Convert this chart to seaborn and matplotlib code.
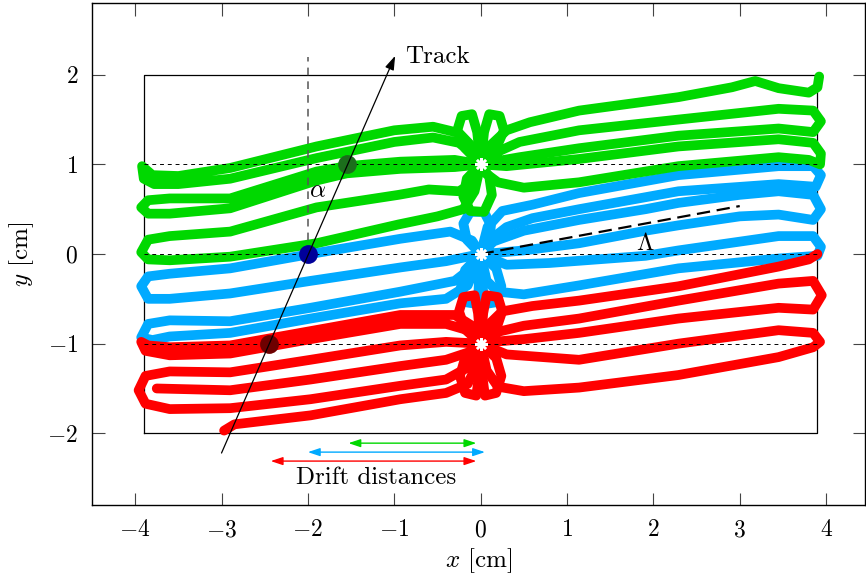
import numpy as np
import pandas as pd
import matplotlib
matplotlib.use("Agg")
import matplotlib.pyplot as plt
import seaborn as sns

plt.rcParams["font.family"] = "serif"
plt.rcParams["font.serif"] = ["cmr10"]
plt.rcParams["mathtext.fontset"] = "cm"
plt.rcParams["axes.formatter.use_mathtext"] = True

# wire positions (drift line end points) and the colours of the three cells
centers = [1.0, 0.0, -1.0]
cell_colors = {"green": "#00d800", "blue": "#00aaff", "red": "#ff0000"}

# drift lines, one polyline per loop (x, y in cm)
green_lines = [
    [(0, 1.0), (-0.08, 1.18), (-0.25, 1.35), (-0.55, 1.42), (-1.0, 1.38), (-1.9, 1.2), (-2.9, 0.96),
     (-3.5, 0.87), (-3.8, 0.88), (-3.92, 0.98), (-3.9, 0.84), (-3.78, 0.78), (-3.5, 0.78), (-2.9, 0.84),
     (-1.9, 1.07), (-1.0, 1.25), (-0.55, 1.3), (-0.25, 1.24), (-0.1, 1.12), (0, 1.0)],
    [(0, 1.0), (-0.3, 1.05), (-0.93, 1.03), (-1.55, 0.98), (-1.9, 0.92), (-2.9, 0.62), (-3.6, 0.62),
     (-3.85, 0.6), (-3.93, 0.52), (-3.85, 0.45), (-3.6, 0.45), (-2.9, 0.51), (-1.9, 0.82), (-1.55, 0.9),
     (-0.93, 0.95), (-0.3, 0.97), (0, 1.0)],
    [(0, 1.0), (-0.08, 0.8), (-0.25, 0.7), (-0.6, 0.72), (-0.95, 0.66), (-1.9, 0.52), (-2.9, 0.25),
     (-3.6, 0.2), (-3.85, 0.16), (-3.93, 0.02), (-3.85, -0.06), (-3.6, -0.07), (-2.9, -0.03), (-1.9, 0.12),
     (-0.95, 0.33), (-0.5, 0.42), (-0.2, 0.5), (-0.07, 0.7), (0, 1.0)],
    [(0, 1.0), (0.1, 1.2), (0.3, 1.38), (0.57, 1.47), (1.14, 1.6), (2.29, 1.75), (2.91, 1.86), (3.18, 1.93),
     (3.45, 1.85), (3.8, 1.8), (3.9, 1.86), (3.92, 1.98)],
    [(0, 1.0), (0.15, 1.12), (0.45, 1.25), (1.14, 1.38), (2.29, 1.5), (3.45, 1.62), (3.85, 1.6), (3.94, 1.48),
     (3.85, 1.36), (3.45, 1.4), (2.29, 1.32), (1.14, 1.18), (0.45, 1.08), (0.15, 1.03), (0, 1.0)],
    [(0, 1.0), (0.3, 0.98), (1.14, 1.06), (2.29, 1.2), (3.45, 1.28), (3.85, 1.24), (3.94, 1.12), (3.93, 1.0),
     (3.8, 1.05), (3.45, 1.08), (2.29, 0.98), (1.14, 0.8), (0.5, 0.74), (0.2, 0.8), (0.06, 0.9), (0, 1.0)],
    [(0, 1.0), (-0.18, 1.18), (-0.27, 1.38), (-0.22, 1.54), (-0.1, 1.56), (-0.04, 1.36), (0, 1.0)],
    [(0, 1.0), (0.04, 1.36), (0.1, 1.56), (0.22, 1.54), (0.27, 1.38), (0.18, 1.18), (0, 1.0)],
    [(0, 1.0), (-0.16, 0.84), (-0.2, 0.64), (-0.12, 0.48), (0.04, 0.47), (0.13, 0.66), (0.1, 0.86), (0, 1.0)],
]

blue_lines = [
    [(0, 0), (-0.1, 0.15), (-0.35, 0.25), (-0.93, 0.17), (-1.97, 0.0), (-2.9, -0.16), (-3.6, -0.22),
     (-3.85, -0.25), (-3.93, -0.36), (-3.85, -0.5), (-3.6, -0.5), (-2.9, -0.44), (-1.97, -0.3),
     (-0.93, -0.15), (-0.4, -0.08), (0, 0)],
    [(0, 0), (-0.1, -0.15), (-0.3, -0.3), (-0.93, -0.42), (-1.97, -0.6), (-2.9, -0.75), (-3.6, -0.74),
     (-3.85, -0.78), (-3.93, -0.93), (-3.8, -0.96), (-3.6, -0.92), (-2.9, -0.88), (-1.97, -0.72),
     (-0.93, -0.55), (-0.4, -0.5), (-0.15, -0.35), (0, 0)],
    [(0, 0), (0.08, 0.3), (0.25, 0.48), (0.6, 0.55), (1.14, 0.68), (2.29, 0.88), (3.45, 0.98), (3.85, 0.98),
     (3.94, 0.88), (3.88, 0.75), (3.45, 0.78), (2.29, 0.7), (1.14, 0.5), (0.6, 0.4), (0.3, 0.3), (0.1, 0.15),
     (0, 0)],
    [(0, 0), (0.15, 0.14), (0.5, 0.26), (1.14, 0.38), (1.91, 0.5), (2.29, 0.57), (3.0, 0.66), (3.45, 0.7),
     (3.85, 0.66), (3.94, 0.5), (3.85, 0.38), (3.45, 0.44), (3.0, 0.42), (2.29, 0.32), (1.91, 0.26),
     (1.14, 0.12), (0.5, 0.04), (0.15, 0.01), (0, 0)],
    [(0, 0), (0.3, -0.12), (0.8, -0.1), (1.91, -0.02), (2.29, 0.04), (3.45, 0.2), (3.85, 0.2), (3.94, 0.08),
     (3.9, -0.02), (3.45, -0.05), (2.29, -0.16), (1.14, -0.35), (0.5, -0.45), (0.2, -0.42), (0.07, -0.3),
     (0, 0)],
    [(0, 0), (-0.16, 0.16), (-0.2, 0.34), (-0.12, 0.47), (0.04, 0.47), (0.12, 0.32), (0.1, 0.14), (0, 0)],
    [(0, 0), (-0.18, -0.18), (-0.23, -0.38), (-0.16, -0.54), (-0.03, -0.56), (-0.02, -0.3), (0, 0)],
    [(0, 0), (0.02, -0.3), (0.04, -0.56), (0.17, -0.54), (0.24, -0.36), (0.18, -0.16), (0, 0)],
]

red_lines = [
    [(0, -1), (-0.1, -0.8), (-0.3, -0.68), (-0.93, -0.68), (-1.97, -0.86), (-2.9, -1.02), (-3.6, -1.04),
     (-3.85, -1.02), (-3.93, -0.98), (-3.88, -1.08), (-3.6, -1.13), (-2.9, -1.11), (-1.97, -0.95),
     (-0.93, -0.78), (-0.4, -0.78), (-0.15, -0.85), (0, -1)],
    [(0, -1), (-0.4, -0.98), (-0.93, -1.02), (-1.97, -1.18), (-2.9, -1.32), (-3.6, -1.31), (-3.88, -1.36),
     (-3.96, -1.52), (-3.88, -1.67), (-3.6, -1.73), (-2.9, -1.72), (-1.97, -1.62), (-0.93, -1.47),
     (-0.4, -1.4), (-0.12, -1.25), (0, -1)],
    [(-3.75, -1.5), (-2.9, -1.52), (-1.97, -1.4), (-0.93, -1.25), (-0.4, -1.18), (-0.15, -1.1), (0, -1)],
    [(-2.97, -1.97), (-2.85, -1.9), (-1.97, -1.8), (-0.93, -1.62), (-0.4, -1.55), (-0.15, -1.45),
     (-0.05, -1.25), (0, -1)],
    [(0, -1), (0.08, -0.8), (0.25, -0.64), (0.6, -0.58), (1.14, -0.52), (2.29, -0.36), (3.45, -0.14),
     (3.8, -0.06), (3.9, 0.0)],
    [(0, -1), (0.15, -0.88), (0.5, -0.8), (1.14, -0.72), (2.29, -0.52), (3.45, -0.33), (3.85, -0.3),
     (3.95, -0.46), (3.85, -0.62), (3.45, -0.6), (2.29, -0.72), (1.14, -0.88), (0.5, -0.95), (0.15, -0.98),
     (0, -1)],
    [(0, -1), (0.3, -1.12), (1.14, -1.18), (2.29, -1.0), (3.45, -0.85), (3.85, -0.88), (3.93, -0.98),
     (3.85, -1.04), (3.45, -1.15), (2.29, -1.35), (1.14, -1.49), (0.5, -1.53), (0.2, -1.48), (0.07, -1.3),
     (0, -1)],
    [(0, -1), (-0.18, -0.84), (-0.25, -0.64), (-0.2, -0.48), (-0.07, -0.46), (-0.03, -0.66), (0, -1)],
    [(0, -1), (0.03, -0.66), (0.07, -0.46), (0.2, -0.48), (0.25, -0.64), (0.18, -0.84), (0, -1)],
    [(0, -1), (-0.18, -1.16), (-0.24, -1.36), (-0.18, -1.55), (-0.05, -1.58), (-0.02, -1.36), (0, -1)],
    [(0, -1), (0.02, -1.36), (0.05, -1.58), (0.18, -1.55), (0.24, -1.36), (0.18, -1.16), (0, -1)],
]

# cell box, track, hit points and drift distance arrows
box_x = [-3.9, 3.9, 3.9, -3.9, -3.9]
box_y = [-2.0, -2.0, 2.0, 2.0, -2.0]
track_start = (-3.0, -2.22)
track_end = (-0.99, 2.21)
hit_x = [-1.55, -2.0, -2.45]
hit_y = [1.0, 0.0, -1.0]
hit_colors = ["#1c6e1c", "#00009a", "#6e0000"]
drift_from = [-1.53, -2.0, -2.43]
drift_to = [-0.05, 0.05, -0.05]
drift_y = [-2.11, -2.21, -2.31]
lorentz_end = (3.0, 0.535)
xticks = [-4, -3, -2, -1, 0, 1, 2, 3, 4]
yticks = [-2, -1, 0, 1, 2]

rows = []
for group, lines in [("blue", blue_lines), ("red", red_lines), ("green", green_lines)]:
    for i, line in enumerate(lines):
        for x, y in line:
            rows.append({"group": group, "line": f"{group}{i}", "x": x, "y": y})
df = pd.DataFrame(rows)

fig = plt.figure(figsize=(8.66, 5.81), dpi=100)
ax = fig.add_axes([0.1062, 0.1308, 0.8926, 0.864])

ax.plot(box_x, box_y, color="k", lw=0.9, zorder=1)
for group in ["blue", "red", "green"]:
    sns.lineplot(data=df[df["group"] == group], x="x", y="y", units="line", estimator=None,
                 sort=False, color=cell_colors[group], lw=7, ax=ax, legend=False,
                 solid_capstyle="round", solid_joinstyle="round", zorder=2)

for c in centers:
    ax.plot([-3.9, 3.9], [c, c], color="k", lw=0.7, ls=(0, (4, 4)), zorder=3)
ax.plot([-2, -2], [0, 2.2], color="#555555", lw=1.1, ls=(0, (5, 4)), zorder=3)
ax.plot([0, lorentz_end[0]], [0, lorentz_end[1]], color="k", lw=1.6, ls=(0, (6, 3)), zorder=4)
ax.plot([0] * 3, centers, ls="none", marker=(8, 2, 0), color="white", ms=9, mew=1.8, zorder=5)

for x, y, c in zip(hit_x, hit_y, hit_colors):
    ax.plot(x, y, "o", ms=12.5, color=c, zorder=5)

ax.annotate("", xy=track_end, xytext=track_start, zorder=6,
            arrowprops=dict(arrowstyle="-|>,head_length=0.6,head_width=0.2", color="k", lw=0.9,
                            mutation_scale=14, shrinkA=0, shrinkB=0))
ax.text(-0.88, 2.2, "Track", fontsize=18, ha="left", va="center")

for x0, x1, y, c in zip(drift_from, drift_to, drift_y, cell_colors.values()):
    ax.annotate("", xy=(x1, y), xytext=(x0, y),
                arrowprops=dict(arrowstyle="<|-|>,head_length=0.6,head_width=0.2", color=c, lw=1,
                                mutation_scale=12, shrinkA=0, shrinkB=0))
ax.text(-1.21, -2.5, "Drift distances", fontsize=18, ha="center", va="center")
ax.text(-1.89, 0.70, r"$\alpha$", fontsize=18, ha="center", va="center")
ax.text(1.91, 0.11, r"$\Lambda$", fontsize=18, ha="center", va="center")

ax.set_xlim(-4.5, 4.45)
ax.set_ylim(-2.8, 2.8)
ax.set_xticks(xticks)
ax.set_xticklabels([f"${t}$" for t in xticks])
ax.set_yticks(yticks)
ax.set_yticklabels([f"${t}$" for t in yticks])
ax.tick_params(direction="in", length=9, width=0.8, color="#444444", top=True, right=True,
               labelsize=17, pad=10)
ax.set_xlabel("$x$ [cm]", fontsize=18, labelpad=4)
ax.set_ylabel("$y$ [cm]", fontsize=18, labelpad=8)
for s in ax.spines.values():
    s.set_linewidth(1.0)

fig.savefig("out.png", dpi=100)
